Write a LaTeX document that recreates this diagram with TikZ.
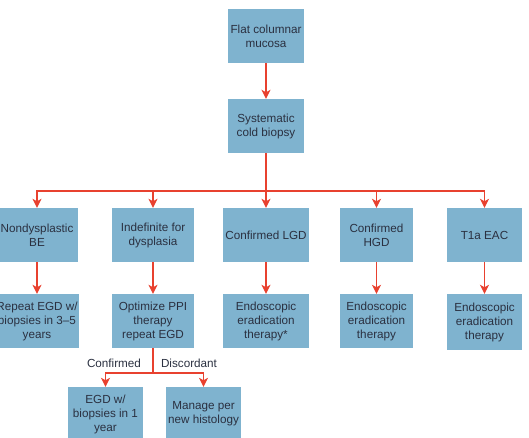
\documentclass[tikz,border=0pt]{standalone}
\usepackage{fontspec}
\setmainfont{Liberation Sans}
\usetikzlibrary{arrows.meta}
\definecolor{boxblue}{HTML}{7FB3CF}
\definecolor{arrowred}{HTML}{E8412F}
\definecolor{txt}{HTML}{2A3040}
\begin{document}
\begin{tikzpicture}[x=1pt,y=-1pt,
  box/.style={fill=boxblue, draw=none, text=txt, align=center,
    font=\fontsize{11.7}{14}\selectfont, inner sep=0pt, minimum height=54pt},
  conn/.style={draw=arrowred, line width=1.2pt},
  arr/.style={conn, -{Stealth[length=9pt,width=9pt,inset=2.5pt]}},
  lbl/.style={text=txt, font=\fontsize{11.7}{14}\selectfont, inner sep=0pt}]
\useasboundingbox (0,0) rectangle (529,438);
\clip (0,0) rectangle (529,438);
% top
\node[box, minimum width=76pt] (flat) at (266,36) {Flat columnar\\mucosa};
\node[box, minimum width=76pt] (sys) at (266,126) {Systematic\\cold biopsy};
% row 1
\node[box, minimum width=82pt] (r1a) at (37,235) {Nondysplastic\\BE};
\node[box, minimum width=82pt] (r1b) at (153,235) {Indefinite for\\dysplasia};
\node[box, minimum width=86pt] (r1c) at (266,235) {Confirmed LGD};
\node[box, minimum width=73pt] (r1d) at (376.5,235) {Confirmed\\HGD};
\node[box, minimum width=75pt] (r1e) at (484.5,235) {T1a EAC};
% row 2
\node[box, minimum width=84pt] (r2a) at (37,321) {Repeat EGD w/\\biopsies in 3--5\\years};
\node[box, minimum width=82pt] (r2b) at (153,321) {Optimize PPI\\therapy\\repeat EGD};
\node[box, minimum width=86pt] (r2c) at (266,321) {Endoscopic\\eradication\\therapy*};
\node[box, minimum width=73pt] (r2d) at (376.5,321) {Endoscopic\\eradication\\therapy};
\node[box, minimum width=75pt, minimum height=56pt] (r2e) at (484.5,322) {Endoscopic\\eradication\\therapy};
% row 3
\node[box, minimum width=75pt] (r3a) at (105.5,414) {EGD w/\\biopsies in 1\\year};
\node[box, minimum width=75pt] (r3b) at (203.5,414) {Manage per\\new histology};
% connectors
\draw[arr] (flat) -- (sys);
\coordinate (j) at (266,191);
\draw[conn] (sys) -- (j);
\foreach \n in {r1a,r1b,r1c,r1d,r1e} {\draw[arr] (j) -| (\n.north);}
\foreach \a/\b in {r1a/r2a,r1b/r2b,r1c/r2c,r1d/r2d,r1e/r2e} {\draw[arr] (\a) -- (\b);}
\coordinate (k) at (153,373);
\draw[conn] (r2b) -- (k);
\draw[arr] (k) -| (r3a.north);
\draw[arr] (k) -| (r3b.north);
\node[lbl] (lc) at (114,363) {Confirmed};
\node[lbl] (ld) at (189,363) {Discordant};
\end{tikzpicture}
\end{document}
